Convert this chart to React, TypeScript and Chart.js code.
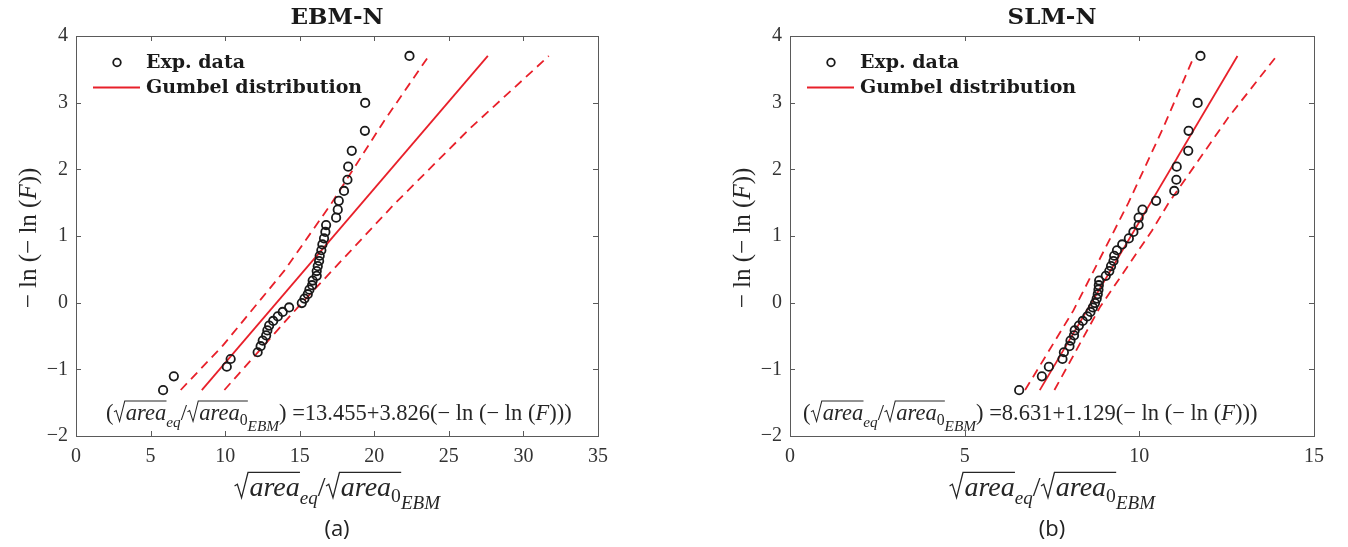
import React, { useEffect, useRef } from "react";
import { Chart, registerables } from "chart.js";
Chart.register(...registerables);

// ---- data ----
const yPlot = [-1.312, -1.105, -0.961, -0.845, -0.744, -0.653, -0.570, -0.491, -0.416, -0.344,
  -0.274, -0.206, -0.139, -0.072, -0.006, 0.061, 0.127, 0.195, 0.262, 0.332,
  0.402, 0.474, 0.548, 0.625, 0.704, 0.786, 0.873, 0.964, 1.061, 1.164,
  1.275, 1.395, 1.527, 1.676, 1.844, 2.040, 2.277, 2.578, 2.996, 3.701];

const xEBM = [5.84, 6.56, 10.11, 10.37, 12.18, 12.38, 12.52, 12.75, 12.83, 12.95,
  13.22, 13.53, 13.86, 14.29, 15.14, 15.32, 15.54, 15.65, 15.83, 15.87,
  16.14, 16.14, 16.21, 16.30, 16.34, 16.45, 16.52, 16.63, 16.72, 16.77,
  17.44, 17.55, 17.62, 17.97, 18.20, 18.25, 18.49, 19.37, 19.39, 22.36];

const xSLM = [6.56, 7.21, 7.41, 7.80, 7.84, 8.00, 8.03, 8.13, 8.15, 8.27,
  8.38, 8.51, 8.60, 8.67, 8.73, 8.78, 8.81, 8.83, 8.84, 8.85,
  9.04, 9.14, 9.19, 9.26, 9.28, 9.36, 9.51, 9.70, 9.83, 9.98,
  9.98, 10.09, 10.48, 11.00, 11.06, 11.07, 11.40, 11.41, 11.67, 11.75];

const fitY = [-1.312, 3.701];
const fitEBMx = [8.435, 27.615];
const fitSLMx = [7.150, 12.809];

const upperEBMx = [7.02, 9.84, 13.97, 17.10, 20.67, 23.65];
const upperEBMy = [-1.31, -0.645, 0.48, 1.48, 2.73, 3.70];
const lowerEBMx = [9.95, 14.87, 21.35, 26.49, 31.70];
const lowerEBMy = [-1.31, -0.07, 1.48, 2.63, 3.70];

const upperSLMx = [6.73, 8.11, 9.69, 10.69, 11.57];
const upperSLMy = [-1.31, -0.12, 1.50, 2.63, 3.70];
const lowerSLMx = [7.57, 8.87, 10.36, 10.82, 12.55, 13.93];
const lowerSLMy = [-1.31, -0.07, 1.08, 1.48, 2.78, 3.70];

const xTicksEBM = [0, 5, 10, 15, 20, 25, 30, 35];
const xTicksSLM = [0, 5, 10, 15];
const yTicks = [-2, -1, 0, 1, 2, 3, 4];

const interceptEBM = "13.455";
const slopeEBM = "3.826";
const interceptSLM = "8.631";
const slopeSLM = "1.129";

const legendLabels = ["Exp. data", "Gumbel distribution"];

// ---- styling ----
const RED = "#e8202a";
const SERIF = "'Liberation Serif', serif";
const BOLD = "'DejaVu Serif', serif";
const TXT = "#262626";

type Seg = { t?: string; it?: boolean; sc?: number; dy?: number; sq?: Seg[] };

function segFont(base: number, s: Seg) {
  return `${s.it ? "italic " : ""}${base * (s.sc ?? 1)}px ${SERIF}`;
}
function measure(ctx: CanvasRenderingContext2D, segs: Seg[], base: number): number {
  let w = 0;
  for (const s of segs) {
    if (s.sq) w += base * 0.55 + measure(ctx, s.sq, base);
    else {
      ctx.font = segFont(base, s);
      w += ctx.measureText(s.t!).width;
    }
  }
  return w;
}
function drawRich(ctx: CanvasRenderingContext2D, segs: Seg[], x: number, y: number, base: number): number {
  for (const s of segs) {
    if (s.sq) {
      const e = base;
      const iw = measure(ctx, s.sq, base);
      ctx.beginPath();
      ctx.lineWidth = Math.max(1, base * 0.045);
      ctx.moveTo(x + 0.02 * e, y - 0.36 * e);
      ctx.lineTo(x + 0.12 * e, y - 0.42 * e);
      ctx.lineTo(x + 0.27 * e, y + 0.06 * e);
      ctx.lineTo(x + 0.5 * e, y - 0.84 * e);
      ctx.lineTo(x + 0.56 * e + iw, y - 0.84 * e);
      ctx.stroke();
      x = drawRich(ctx, s.sq, x + 0.55 * e, y, base);
    } else {
      ctx.font = segFont(base, s);
      ctx.fillText(s.t!, x, y + (s.dy ?? 0) * base);
      x += ctx.measureText(s.t!).width;
    }
  }
  return x;
}

const areaRatio: Seg[] = [
  { sq: [{ t: "area", it: true }] },
  { t: "eq", it: true, sc: 0.68, dy: 0.3 },
  { t: "/" },
  { sq: [{ t: "area", it: true }, { t: "0", sc: 0.7, dy: 0.22 }] },
  { t: "EBM", it: true, sc: 0.68, dy: 0.48 },
];
const eqSegs = (a: string, b: string): Seg[] => [
  { t: "(" },
  ...areaRatio,
  { t: ") =" + a + "+" + b + "(\u2212 ln (\u2212 ln (" },
  { t: "F", it: true },
  { t: ")))" },
];
const yLabelSegs: Seg[] = [{ t: "\u2212 ln (\u2212 ln (" }, { t: "F", it: true }, { t: "))" }];

type Cfg = {
  title: string;
  xs: number[];
  fitX: number[];
  upX: number[]; upY: number[];
  loX: number[]; loY: number[];
  xMax: number; xTicks: number[];
  yWidth: number; padRight: number;
  yLabelX: number;
  legendX: number;
  eqX: number; eqSize: number;
  a: string; b: string;
  caption: string;
};

function pts(xs: number[], ys: number[]) {
  return xs.map((x, i) => ({ x, y: ys[i] }));
}

function Panel({ cfg, left }: { cfg: Cfg; left: number }) {
  const ref = useRef<HTMLCanvasElement>(null);
  useEffect(() => {
    const annot = {
      id: "annot",
      afterDraw(chart: any) {
        const ctx: CanvasRenderingContext2D = chart.ctx;
        const ca = chart.chartArea;
        const sx = chart.scales.x, sy = chart.scales.y;
        ctx.save();
        // frame
        ctx.strokeStyle = "#5a5a5a";
        ctx.lineWidth = 1;
        ctx.strokeRect(Math.round(ca.left) + 0.5, Math.round(ca.top) + 0.5, Math.round(ca.right - ca.left), Math.round(ca.bottom - ca.top));
        // inward ticks
        const tl = 5;
        ctx.beginPath();
        for (const v of cfg.xTicks) {
          const px = Math.round(sx.getPixelForValue(v)) + 0.5;
          ctx.moveTo(px, ca.bottom); ctx.lineTo(px, ca.bottom - tl);
          ctx.moveTo(px, ca.top); ctx.lineTo(px, ca.top + tl);
        }
        for (const v of yTicks) {
          const py = Math.round(sy.getPixelForValue(v)) + 0.5;
          ctx.moveTo(ca.left, py); ctx.lineTo(ca.left + tl, py);
          ctx.moveTo(ca.right, py); ctx.lineTo(ca.right - tl, py);
        }
        ctx.stroke();
        const cx = (ca.left + ca.right) / 2;
        // title
        ctx.fillStyle = "#1a1a1a";
        ctx.textAlign = "center";
        ctx.textBaseline = "alphabetic";
        ctx.font = `bold 23px ${BOLD}`;
        ctx.fillText(cfg.title, cx, 24);
        // legend
        ctx.textAlign = "left";
        ctx.strokeStyle = "#1a1a1a";
        ctx.lineWidth = 1.8;
        ctx.beginPath();
        ctx.arc(cfg.legendX, 62.5, 3.8, 0, Math.PI * 2);
        ctx.stroke();
        ctx.strokeStyle = RED;
        ctx.lineWidth = 1.8;
        ctx.beginPath();
        ctx.moveTo(cfg.legendX - 24, 87.5);
        ctx.lineTo(cfg.legendX + 23, 87.5);
        ctx.stroke();
        ctx.font = `bold 19px ${BOLD}`;
        ctx.fillStyle = "#1a1a1a";
        ctx.fillText(legendLabels[0], cfg.legendX + 29, 68);
        ctx.fillText(legendLabels[1], cfg.legendX + 29, 93);
        // equation
        ctx.fillStyle = TXT;
        ctx.strokeStyle = TXT;
        drawRich(ctx, eqSegs(cfg.a, cfg.b), cfg.eqX, 420, cfg.eqSize);
        // x label
        const xl = 28;
        const xw = measure(ctx, areaRatio, xl);
        drawRich(ctx, areaRatio, cx - xw / 2, 496, xl);
        // y label
        ctx.save();
        ctx.translate(cfg.yLabelX, 238);
        ctx.rotate(-Math.PI / 2);
        const yw = measure(ctx, yLabelSegs, 25);
        drawRich(ctx, yLabelSegs, -yw / 2, 9, 25);
        ctx.restore();
        // caption
        ctx.textAlign = "center";
        ctx.fillStyle = "#222";
        ctx.font = `22px 'Open Sans', sans-serif`;
        ctx.fillText(cfg.caption, cx, 536);
        ctx.restore();
      },
    };

    const chart = new Chart(ref.current!, {
      type: "scatter",
      data: {
        datasets: [
          {
            data: pts(cfg.xs, yPlot),
            showLine: false,
            pointRadius: 4.2,
            pointHoverRadius: 4.2,
            pointBorderWidth: 1.8,
            pointBorderColor: "#1a1a1a",
            pointBackgroundColor: "rgba(0,0,0,0)",
          },
          {
            data: pts(cfg.fitX, fitY),
            showLine: true,
            pointRadius: 0,
            borderColor: RED,
            borderWidth: 1.8,
          },
          {
            data: pts(cfg.upX, cfg.upY),
            showLine: true,
            pointRadius: 0,
            borderColor: RED,
            borderWidth: 1.8,
            borderDash: [9, 6],
          },
          {
            data: pts(cfg.loX, cfg.loY),
            showLine: true,
            pointRadius: 0,
            borderColor: RED,
            borderWidth: 1.8,
            borderDash: [9, 6],
          },
        ],
      },
      options: {
        animation: false,
        responsive: false,
        devicePixelRatio: 1,
        layout: { padding: { left: 0, top: 36, right: cfg.padRight, bottom: 0 } },
        plugins: { legend: { display: false }, tooltip: { enabled: false } },
        scales: {
          x: {
            type: "linear",
            min: 0,
            max: cfg.xMax,
            afterFit: (s: any) => { s.height = 111; },
            afterBuildTicks: (s: any) => { s.ticks = cfg.xTicks.map((v) => ({ value: v })); },
            grid: { display: false, drawTicks: false },
            border: { display: false },
            ticks: {
              padding: 9,
              color: "#333",
              font: { family: SERIF, size: 20 },
              maxRotation: 0,
              callback: (v: any) => String(v),
            },
          },
          y: {
            type: "linear",
            min: -2,
            max: 4,
            afterFit: (s: any) => { s.width = cfg.yWidth; },
            afterBuildTicks: (s: any) => { s.ticks = yTicks.map((v) => ({ value: v })); },
            grid: { display: false, drawTicks: false },
            border: { display: false },
            ticks: {
              padding: 8,
              color: "#333",
              font: { family: SERIF, size: 20 },
              callback: (v: any) => (v < 0 ? "\u2212" + Math.abs(v) : String(v)),
            },
          },
        },
      } as any,
      plugins: [annot],
    });
    return () => chart.destroy();
  }, []);
  return (
    <canvas
      ref={ref}
      width={674}
      height={547}
      style={{ position: "absolute", left, top: 0, width: 674, height: 547 }}
    />
  );
}

const cfgEBM: Cfg = {
  title: "EBM-N",
  xs: xEBM,
  fitX: fitEBMx,
  upX: upperEBMx, upY: upperEBMy,
  loX: lowerEBMx, loY: lowerEBMy,
  xMax: 35, xTicks: xTicksEBM,
  yWidth: 76, padRight: 76,
  yLabelX: 27,
  legendX: 117,
  eqX: 106, eqSize: 22.5,
  a: interceptEBM, b: slopeEBM,
  caption: "(a)",
};
const cfgSLM: Cfg = {
  title: "SLM-N",
  xs: xSLM,
  fitX: fitSLMx,
  upX: upperSLMx, upY: upperSLMy,
  loX: lowerSLMx, loY: lowerSLMy,
  xMax: 15, xTicks: xTicksSLM,
  yWidth: 116, padRight: 34,
  yLabelX: 67,
  legendX: 157,
  eqX: 129, eqSize: 22.5,
  a: interceptSLM, b: slopeSLM,
  caption: "(b)",
};

export default function App() {
  return (
    <div style={{ position: "fixed", left: 0, top: 0, width: 1348, height: 547, background: "#fff" }}>
      <Panel cfg={cfgEBM} left={0} />
      <Panel cfg={cfgSLM} left={674} />
    </div>
  );
}
